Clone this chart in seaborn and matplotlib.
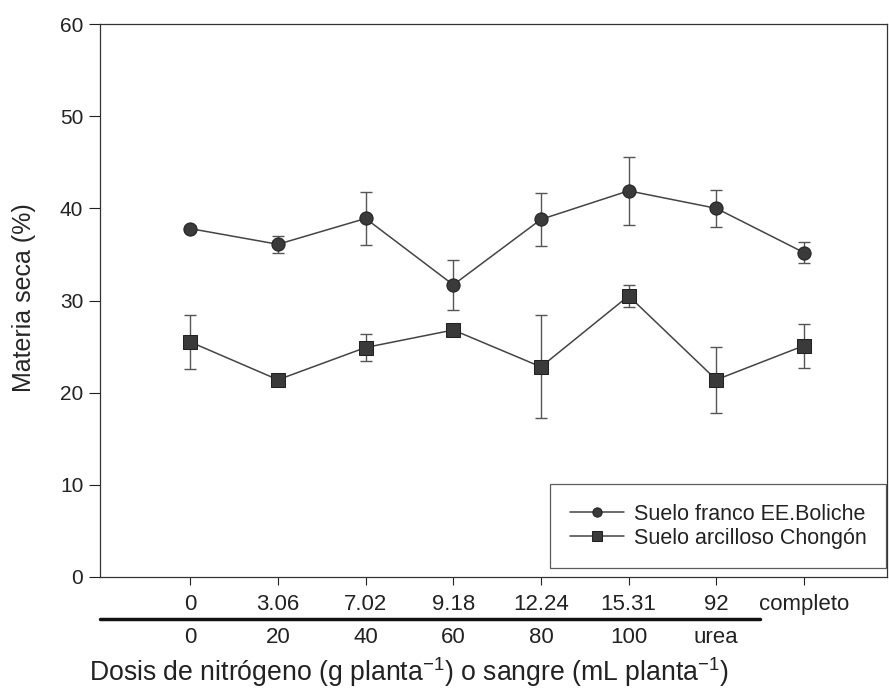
import matplotlib
matplotlib.use("Agg")
import matplotlib.pyplot as plt
import matplotlib.transforms as mtransforms
import seaborn as sns
import numpy as np
import pandas as pd

# tratamientos (eje x)
dosis_n = ["0", "3.06", "7.02", "9.18", "12.24", "15.31", "92", "completo"]
dosis_sangre = ["0", "20", "40", "60", "80", "100", "urea"]

serie_franco = "Suelo franco EE.Boliche"
serie_arcilla = "Suelo arcilloso Chongón"

franco = [37.8, 36.1, 38.9, 31.7, 38.8, 41.9, 40.0, 35.2]
franco_err = [0.3, 0.9, 2.9, 2.7, 2.9, 3.7, 2.0, 1.1]
arcilla = [25.5, 21.4, 24.9, 26.8, 22.8, 30.5, 21.4, 25.1]
arcilla_err = [2.9, 0.4, 1.5, 0.4, 5.6, 1.2, 3.6, 2.4]

sns.set_style("ticks")
plt.rcParams["font.family"] = ["Liberation Sans", "DejaVu Sans"]
plt.rcParams["mathtext.fontset"] = "custom"
plt.rcParams["mathtext.rm"] = "Liberation Sans"
plt.rcParams["mathtext.it"] = "Liberation Sans"
plt.rcParams["text.color"] = "#222222"
plt.rcParams["xtick.color"] = "#222222"
plt.rcParams["ytick.color"] = "#222222"

pos = np.arange(len(dosis_n))
df = pd.DataFrame({
    "x": np.concatenate([pos, pos]),
    "y": franco + arcilla,
    "err": franco_err + arcilla_err,
    "serie": [serie_franco] * len(pos) + [serie_arcilla] * len(pos),
})

fig = plt.figure(figsize=(8.89, 6.92), dpi=100)
ax = fig.add_axes([0.1125, 0.1662, 0.8855, 0.7991])

for serie, g in df.groupby("serie", sort=False):
    ax.errorbar(g["x"], g["y"], yerr=g["err"], fmt="none", ecolor="#555555",
                elinewidth=1.0, capsize=4, capthick=1.0, zorder=2)

sns.lineplot(data=df, x="x", y="y", hue="serie", style="serie",
             markers={serie_franco: "o", serie_arcilla: "s"}, dashes=False,
             palette={serie_franco: "#444444", serie_arcilla: "#444444"},
             markersize=9.5, markerfacecolor="#3a3a3a", markeredgecolor="#222222",
             linewidth=1.1, ax=ax, zorder=3)

ax.set_xlim(-1.03, 7.95)
ax.set_ylim(0, 60)
ax.set_yticks(range(0, 61, 10))
ax.set_xticks(pos)
ax.set_xticklabels(dosis_n)
ax.tick_params(axis="y", direction="out", length=8, width=0.8, labelsize=15, pad=4)
ax.tick_params(axis="x", direction="out", length=6, width=0.8, labelsize=16, pad=6)
for s in ax.spines.values():
    s.set_linewidth(0.9)
    s.set_color("#333333")

ax.set_xlabel("")
ax.set_ylabel("Materia seca (%)", fontsize=18, va="center")
ax.yaxis.set_label_coords(-0.097, 0.506)

# segunda fila de etiquetas (sangre)
trans = mtransforms.blended_transform_factory(ax.transData, ax.transAxes)
for i, lab in enumerate(dosis_sangre):
    ax.text(i, -0.109, lab, transform=trans, ha="center", va="center", fontsize=16)
ax.plot([-1.03, 6.5], [-0.076, -0.076], transform=trans, color="#111111",
        linewidth=2.5, clip_on=False)

fig.text(89 / 889, 1 - 672 / 692,
         "Dosis de nitrógeno (g planta$^{-1}$) o sangre (mL planta$^{-1}$)",
         ha="left", va="center", fontsize=19.2)

leg = ax.legend(loc="lower right", bbox_to_anchor=(0.999, 0.016), fontsize=15.5,
                frameon=True, fancybox=False, edgecolor="#333333",
                handlelength=2.5, handletextpad=0.5, borderpad=0.9,
                borderaxespad=0, labelspacing=0.15, markerscale=0.7, title=None)
leg.get_frame().set_linewidth(0.9)

fig.savefig("out.png", dpi=100)
